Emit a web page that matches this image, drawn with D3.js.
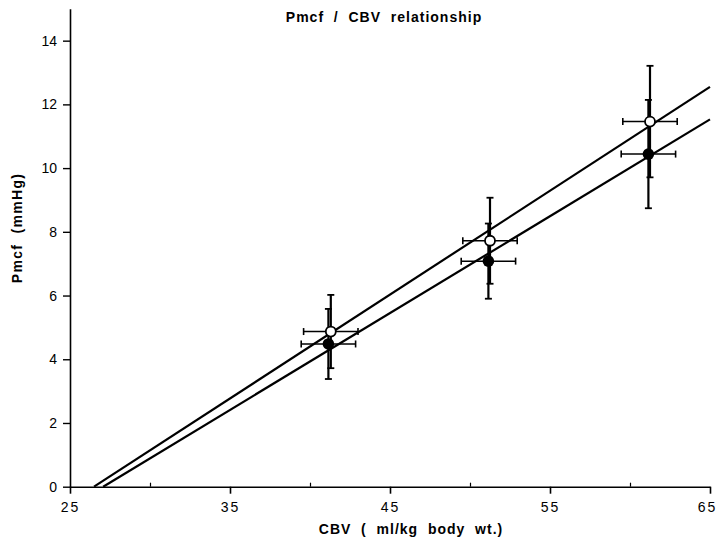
<!DOCTYPE html>
<html>
<head>
<meta charset="utf-8">
<script src="https://cdn.jsdelivr.net/npm/d3@7"></script>
<style>
  body { margin: 0; background: #fff; }
  svg { display: block; font-family: "Liberation Sans", Arial, sans-serif; }
  text { white-space: pre; }
</style>
</head>
<body>
<svg id="chart" width="719" height="545"></svg>
<script>
// values
var xTicks = [25, 35, 45, 55, 65];
var xMinor = [30, 40, 50, 60];
var yTicks = [0, 2, 4, 6, 8, 10, 12, 14];

// open circles
var cbvOpen = [41.3, 51.25, 61.25];
var pmcfOpen = [4.87, 7.72, 11.46];
var cbvOpenErr = [1.7, 1.7, 1.7];
var pmcfOpenErr = [1.15, 1.35, 1.75];

// filled circles
var cbvFilled = [41.15, 51.15, 61.15];
var pmcfFilled = [4.48, 7.08, 10.44];
var cbvFilledErr = [1.7, 1.7, 1.7];
var pmcfFilledErr = [1.1, 1.18, 1.7];

// regression lines (open, filled)
var fitSlope = [0.326, 0.304];
var fitIntercept = [-8.64, -8.23];

var svg = d3.select("#chart");
var x = d3.scaleLinear().domain([25, 65]).range([70, 710]);
var y = d3.scaleLinear().domain([0, 15]).range([486.7, 8.8]);

// y axis
var yAxis = d3.axisLeft(y).tickValues(yTicks).tickSize(7).tickSizeOuter(0).tickPadding(6);
var yG = svg.append("g").attr("transform", "translate(" + x(25) + ",0)").call(yAxis);
yG.select(".domain").attr("stroke-width", 1.6);
yG.selectAll(".tick line").attr("stroke-width", 1.4);
yG.selectAll(".tick text").attr("font-size", 14).attr("font-family", "Liberation Sans, Arial, sans-serif");

// x axis
var xAxis = d3.axisBottom(x).tickValues(xTicks).tickSize(7).tickSizeOuter(0).tickPadding(8);
var xG = svg.append("g").attr("transform", "translate(0," + y(0) + ")").call(xAxis);
xG.select(".domain").attr("stroke-width", 1.6);
xG.selectAll(".tick line").attr("stroke-width", 1.6);
xG.selectAll(".tick text").attr("font-size", 14).attr("letter-spacing", "2px")
  .attr("font-family", "Liberation Sans, Arial, sans-serif");
xG.selectAll(".tick text").filter(function(d) { return d === 65; }).attr("dx", -3);

var xMinorAxis = d3.axisTop(x).tickValues(xMinor).tickSize(4).tickFormat("");
var xm = svg.append("g").attr("transform", "translate(0," + y(0) + ")").call(xMinorAxis);
xm.select(".domain").remove();
xm.selectAll(".tick line").attr("stroke-width", 1.2);

// regression lines
var fits = fitSlope.map(function(s, i) { return {s: s, b: fitIntercept[i]}; });
svg.selectAll(".fit").data(fits).enter().append("line")
  .attr("class", "fit")
  .attr("x1", function(d) { return x(-d.b / d.s); })
  .attr("y1", y(0))
  .attr("x2", x(65))
  .attr("y2", function(d) { return y(d.s * 65 + d.b); })
  .attr("stroke", "#000")
  .attr("stroke-width", 2.2);

function errorBars(cls, cx, cy, ex, ey) {
  var pts = cx.map(function(v, i) { return {x: v, y: cy[i], ex: ex[i], ey: ey[i]}; });
  var g = svg.selectAll("." + cls).data(pts).enter().append("g").attr("class", cls)
    .attr("stroke", "#000");
  // vertical
  g.append("line")
    .attr("x1", function(d) { return x(d.x); }).attr("x2", function(d) { return x(d.x); })
    .attr("y1", function(d) { return y(d.y - d.ey); }).attr("y2", function(d) { return y(d.y + d.ey); })
    .attr("stroke-width", 2.2);
  [-1, 1].forEach(function(k) {
    g.append("line")
      .attr("x1", function(d) { return x(d.x) - 3.5; }).attr("x2", function(d) { return x(d.x) + 3.5; })
      .attr("y1", function(d) { return y(d.y + k * d.ey); }).attr("y2", function(d) { return y(d.y + k * d.ey); })
      .attr("stroke-width", 1.8);
    g.append("line")
      .attr("x1", function(d) { return x(d.x + k * d.ex); }).attr("x2", function(d) { return x(d.x + k * d.ex); })
      .attr("y1", function(d) { return y(d.y) - 3.5; }).attr("y2", function(d) { return y(d.y) + 3.5; })
      .attr("stroke-width", 1.6);
  });
  // horizontal
  g.append("line")
    .attr("x1", function(d) { return x(d.x - d.ex); }).attr("x2", function(d) { return x(d.x + d.ex); })
    .attr("y1", function(d) { return y(d.y); }).attr("y2", function(d) { return y(d.y); })
    .attr("stroke-width", 1.5);
  return g;
}

var gf = errorBars("filled", cbvFilled, pmcfFilled, cbvFilledErr, pmcfFilledErr);
var go = errorBars("open", cbvOpen, pmcfOpen, cbvOpenErr, pmcfOpenErr);

gf.append("circle")
  .attr("cx", function(d) { return x(d.x); }).attr("cy", function(d) { return y(d.y); })
  .attr("r", 5.8).attr("fill", "#000").attr("stroke", "none");
go.append("circle")
  .attr("cx", function(d) { return x(d.x); }).attr("cy", function(d) { return y(d.y); })
  .attr("r", 5).attr("fill", "#fff").attr("stroke-width", 1.8);

// titles
svg.append("text")
  .attr("x", 384).attr("y", 22)
  .attr("text-anchor", "middle")
  .attr("font-size", 14).attr("font-weight", "bold").attr("letter-spacing", "1px")
  .text("Pmcf  /  CBV  relationship");

svg.append("text")
  .attr("x", 411).attr("y", 534)
  .attr("text-anchor", "middle")
  .attr("font-size", 14).attr("font-weight", "bold").attr("letter-spacing", "1px")
  .text("CBV  (  ml/kg  body  wt.)");

svg.append("text")
  .attr("transform", "translate(22,228) rotate(-90)")
  .attr("text-anchor", "middle")
  .attr("font-size", 14).attr("font-weight", "bold").attr("letter-spacing", "1.3px")
  .text("Pmcf  (mmHg)");
</script>
</body>
</html>
